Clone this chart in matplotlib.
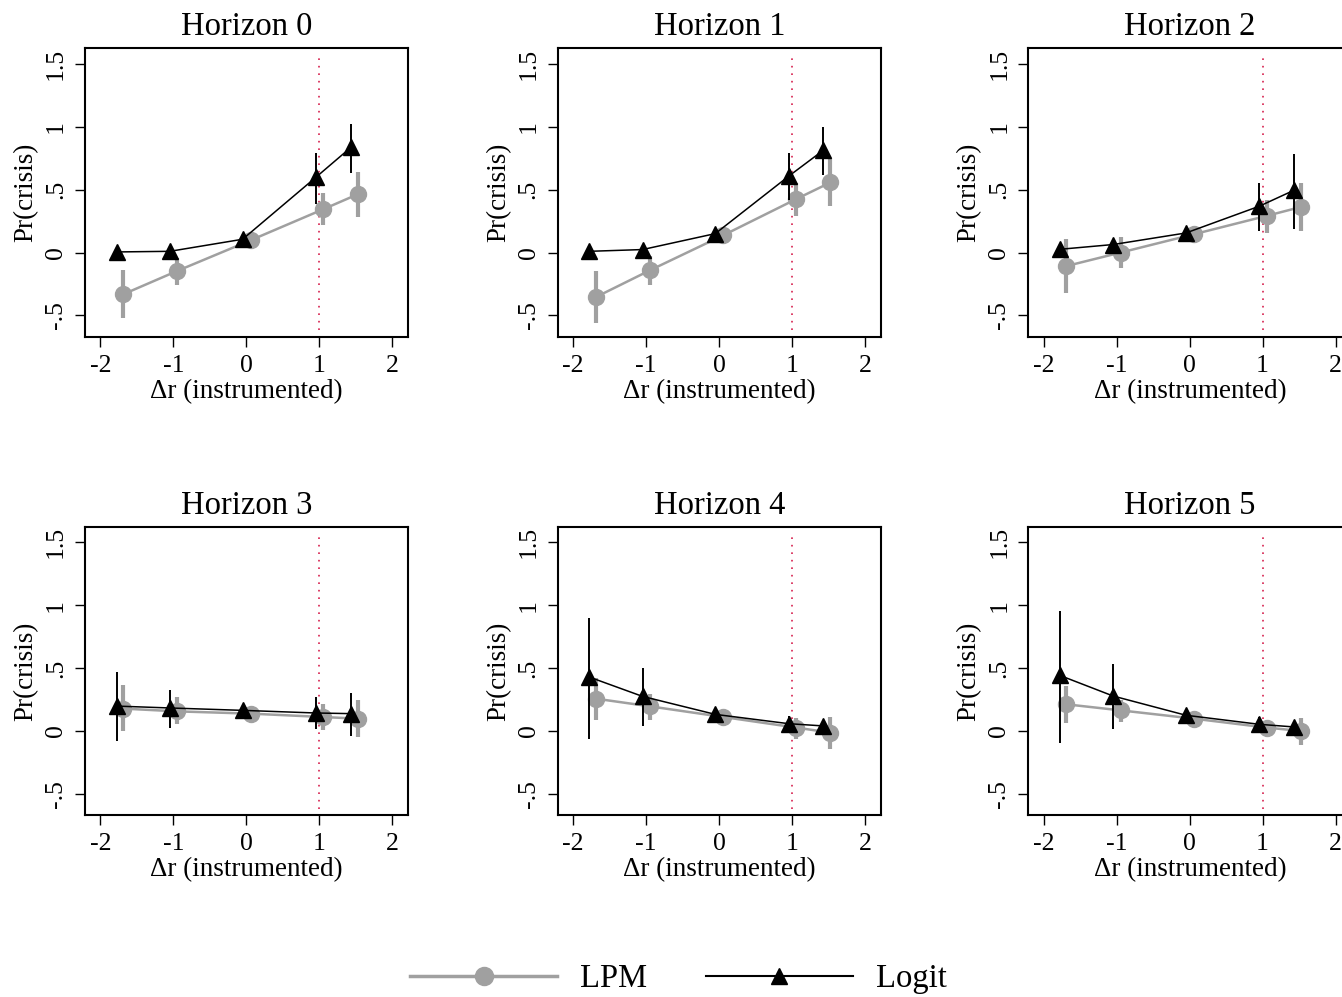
import numpy as np
import matplotlib
matplotlib.use('Agg')
import matplotlib.pyplot as plt
from matplotlib.lines import Line2D

plt.rcParams['font.family'] = ['Liberation Serif', 'DejaVu Serif']

# bin positions of the instrumented rate change (LPM shifted right, logit left)
x_lpm = [-1.687, -0.946, 0.060, 1.056, 1.528]
x_logit = [-1.778, -1.047, -0.050, 0.956, 1.432]

horizons = [0, 1, 2, 3, 4, 5]

# LPM estimates and 95% bands, one list per horizon
lpm_y = [
    [-0.332, -0.146, 0.098, 0.345, 0.464],
    [-0.354, -0.141, 0.138, 0.425, 0.558],
    [-0.107, 0.000, 0.146, 0.292, 0.363],
    [0.178, 0.156, 0.138, 0.111, 0.098],
    [0.257, 0.196, 0.111, 0.027, -0.013],
    [0.212, 0.164, 0.098, 0.027, 0.000],
]
lpm_lo = [
    [-0.518, -0.255, 0.070, 0.223, 0.284],
    [-0.561, -0.261, 0.110, 0.289, 0.369],
    [-0.319, -0.123, 0.120, 0.156, 0.170],
    [0.000, 0.053, 0.120, 0.011, -0.048],
    [0.090, 0.090, 0.090, -0.060, -0.143],
    [0.067, 0.071, 0.080, -0.020, -0.108],
]
lpm_hi = [
    [-0.141, -0.040, 0.125, 0.470, 0.640],
    [-0.149, -0.029, 0.165, 0.555, 0.749],
    [0.106, 0.124, 0.170, 0.422, 0.550],
    [0.363, 0.270, 0.160, 0.212, 0.244],
    [0.424, 0.297, 0.130, 0.106, 0.111],
    [0.355, 0.244, 0.115, 0.070, 0.106],
]

# logit marginal predictions and bands
logit_y = [
    [0.005, 0.010, 0.106, 0.600, 0.836],
    [0.010, 0.024, 0.151, 0.608, 0.815],
    [0.026, 0.064, 0.156, 0.369, 0.496],
    [0.198, 0.183, 0.164, 0.143, 0.138],
    [0.429, 0.275, 0.132, 0.058, 0.040],
    [0.442, 0.278, 0.125, 0.053, 0.032],
]
logit_lo = [
    [0.000, 0.000, 0.090, 0.385, 0.634],
    [0.000, 0.000, 0.130, 0.417, 0.620],
    [0.005, 0.030, 0.140, 0.172, 0.191],
    [-0.079, 0.027, 0.140, 0.013, -0.042],
    [-0.066, 0.037, 0.115, -0.010, -0.020],
    [-0.095, 0.013, 0.110, -0.020, -0.035],
]
logit_hi = [
    [0.010, 0.020, 0.120, 0.794, 1.020],
    [0.020, 0.050, 0.170, 0.794, 1.000],
    [0.050, 0.100, 0.170, 0.550, 0.783],
    [0.468, 0.329, 0.190, 0.270, 0.305],
    [0.900, 0.500, 0.150, 0.120, 0.090],
    [0.958, 0.529, 0.140, 0.110, 0.080],
]

yticks = [-0.5, 0, 0.5, 1, 1.5]
ytick_labels = ['-.5', '0', '.5', '1', '1.5']
xticks = [-2, -1, 0, 1, 2]

W, H = 1342, 997
fig = plt.figure(figsize=(W / 100, H / 100), dpi=100)

lefts = [85, 557.7, 1028.3]
tops = [48.3, 526.7]
aw, ah = 323.3, 288.5

gray = '#a0a0a0'

for k, h in enumerate(horizons):
    r, c = divmod(k, 3)
    ax = fig.add_axes([lefts[c] / W, 1 - (tops[r] + ah) / H, aw / W, ah / H])

    ly = np.array(lpm_y[k])
    ax.errorbar(x_lpm, ly, yerr=[ly - np.array(lpm_lo[k]), np.array(lpm_hi[k]) - ly],
                fmt='none', ecolor=gray, elinewidth=3, capsize=0, zorder=2)
    ax.plot(x_lpm, ly, color=gray, lw=1.8, marker='o', ms=11.5, zorder=3)

    gy = np.array(logit_y[k])
    ax.errorbar(x_logit, gy, yerr=[gy - np.array(logit_lo[k]), np.array(logit_hi[k]) - gy],
                fmt='none', ecolor='black', elinewidth=1.4, capsize=0, zorder=4)
    ax.plot(x_logit, gy, color='black', lw=1.1, marker='^', ms=11, zorder=5)

    ax.axvline(1, ymin=0.023, ymax=0.977, color='#d6204e', lw=1.2,
               ls=(0, (1, 3.5)), zorder=1)

    ax.set_xlim(-2.21, 2.22)
    ax.set_ylim(-0.67, 1.625)
    ax.set_xticks(xticks)
    ax.set_xticklabels([str(t) for t in xticks])
    ax.set_yticks(yticks)
    ax.set_yticklabels(ytick_labels, rotation=90, va='center')
    ax.tick_params(axis='both', length=7, width=1, labelsize=18.5, direction='out')
    ax.tick_params(axis='x', pad=6)
    ax.tick_params(axis='y', pad=6)
    for s in ax.spines.values():
        s.set_linewidth(1.5)

    ax.set_title('Horizon %d' % h, fontsize=23.5, pad=9.5)
    ax.set_xlabel('Δr (instrumented)', fontsize=19.5, va='center')
    ax.xaxis.set_label_coords(0.5, -0.19)
    ax.set_ylabel('Pr(crisis)', fontsize=19.5, va='center')
    ax.yaxis.set_label_coords(-0.183, 0.5)

handles = [
    Line2D([], [], color=gray, lw=2.5, marker='o', ms=13),
    Line2D([], [], color='black', lw=1.5, marker='^', ms=12),
]
fig.legend(handles, ['LPM', 'Logit'], loc='center', bbox_to_anchor=(0.5056, 0.018),
           ncol=2, frameon=False, fontsize=23.5, handlelength=4.5,
           handletextpad=0.7, columnspacing=1.8)

fig.savefig('out.png', dpi=100)
